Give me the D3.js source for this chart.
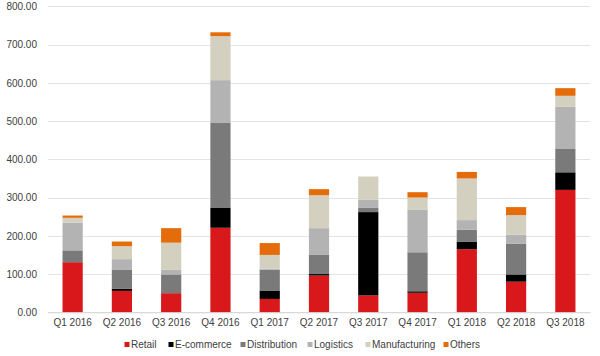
<!DOCTYPE html>
<html><head><meta charset="utf-8">
<script src="https://cdn.jsdelivr.net/npm/d3@7"></script>
<style>body{margin:0;background:#fff;}svg{display:block;font-family:"Liberation Sans",Arial,sans-serif;}</style>
</head><body>
<svg id="c" width="600" height="356"></svg>
<script>
const categories = ["Q1 2016","Q2 2016","Q3 2016","Q4 2016","Q1 2017","Q2 2017","Q3 2017","Q4 2017","Q1 2018","Q2 2018","Q3 2018"];
const seriesNames = ["Retail","E-commerce","Distribution","Logistics","Manufacturing","Others"];
const retail        = [131, 56, 50, 221, 35, 96, 44, 51, 165, 80, 320];
const ecommerce     = [0, 6, 0, 53, 22, 4, 218, 4, 20, 19, 46];
const distribution  = [31, 50, 49, 221, 54, 50, 12, 102, 31, 80, 61];
const logistics     = [72, 27, 12, 112, 3, 70, 20, 112, 25, 24, 110];
const manufacturing = [13, 34, 71, 115, 36, 86, 61, 31, 109, 51, 29];
const others        = [6, 12, 38, 10, 31, 16, 0, 14, 17, 21, 20];
const yTicks = [0,100,200,300,400,500,600,700,800];
const colors = ["#d9181c","#000000","#7a7a7a","#b3b3b3","#d3d0bf","#e46c0a"];

const seriesVals = [retail, ecommerce, distribution, logistics, manufacturing, others];
const table = categories.map((c,i)=>{const o={cat:c}; seriesNames.forEach((s,j)=>o[s]=seriesVals[j][i]); return o;});
const stack = d3.stack().keys(seriesNames)(table);

const svg = d3.select("#c");
const m = {l:48};
const x = d3.scaleBand().domain(categories).range([m.l, 590]).paddingInner(0.59).paddingOuter(0.295);
const y = d3.scaleLinear().domain([0,800]).range([312.3, 6.3]);

// gridlines
svg.append("g").selectAll("line").data(yTicks).join("line")
  .attr("x1", m.l).attr("x2", 590)
  .attr("y1", d=>Math.round(y(d))+0.5).attr("y2", d=>Math.round(y(d))+0.5)
  .attr("stroke", d=> d===0 ? "#d9d9d9" : "#e3e3e3").attr("stroke-width",1);

// y axis labels
const yAxis = d3.axisLeft(y).tickValues(yTicks).tickFormat(d3.format(".2f")).tickSize(0).tickPadding(0);
const ya = svg.append("g").attr("transform","translate(37,0)").call(yAxis);
ya.select(".domain").remove();
ya.selectAll("text").attr("fill","#404040").style("font-size","10px");

// bars
svg.append("g").selectAll("g").data(stack).join("g")
  .attr("fill",(d,i)=>colors[i])
  .selectAll("rect").data(d=>d).join("rect")
  .attr("x", d=>x(d.data.cat)).attr("width", x.bandwidth())
  .attr("y", d=>y(d[1])).attr("height", d=>Math.max(0, y(d[0])-y(d[1])));

// x axis
const xAxis = d3.axisBottom(x).tickSize(0).tickPadding(7);
const xa = svg.append("g").attr("transform","translate(0,312.3)").call(xAxis);
xa.select(".domain").attr("stroke","#d9d9d9");
xa.selectAll("text").attr("fill","#404040").style("font-size","10px");

// legend
const legX = [127,171,243,310,368,446];
const lg = svg.append("g").selectAll("g").data(seriesNames).join("g")
  .attr("transform",(d,i)=>`translate(${legX[i]},344.5)`);
lg.append("rect").attr("x",-2.5).attr("y",-2.5).attr("width",5).attr("height",5).attr("fill",(d,i)=>colors[i]);
lg.append("text").attr("x",4).attr("y",3.5).attr("fill","#404040").style("font-size","10px").text(d=>d);
</script>
</body></html>
